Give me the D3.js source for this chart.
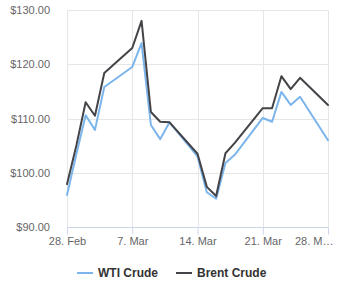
<!DOCTYPE html>
<html>
<head>
<meta charset="utf-8">
<script src="https://cdn.jsdelivr.net/npm/d3@7"></script>
<style>
  body { margin: 0; background: #fff; }
  text { font-family: "Liberation Sans", Arial, sans-serif; }
</style>
</head>
<body>
<div id="chart"></div>
<script>
// Trading days shown on the chart
var dates = ["2022-02-28", "2022-03-01", "2022-03-02", "2022-03-03", "2022-03-04",
  "2022-03-07", "2022-03-08", "2022-03-09", "2022-03-10", "2022-03-11",
  "2022-03-14", "2022-03-15", "2022-03-16", "2022-03-17", "2022-03-18",
  "2022-03-21", "2022-03-22", "2022-03-23", "2022-03-24", "2022-03-25",
  "2022-03-28"];

var wtiPrices = [95.9, 103.4, 110.6, 107.9, 115.8,
  119.5, 123.9, 108.8, 106.2, 109.3,
  103.0, 96.4, 95.2, 101.8, 103.3,
  110.1, 109.4, 114.9, 112.5, 114.0,
  106.0];

var brentPrices = [97.9, 105.0, 113.0, 110.5, 118.4,
  123.0, 128.0, 111.2, 109.4, 109.3,
  103.5, 97.4, 95.7, 103.6, 105.5,
  111.9, 111.9, 117.8, 115.4, 117.5,
  112.5];

var yTicks = [90, 100, 110, 120, 130];
var xTicks = ["2022-02-28", "2022-03-07", "2022-03-14", "2022-03-21", "2022-03-28"];
var xTickLabels = ["28. Feb", "7. Mar", "14. Mar", "21. Mar", "28. M\u2026"];

var seriesNames = ["WTI Crude", "Brent Crude"];
var seriesColors = ["#7cb5ec", "#434348"];

var svgWidth = 340;
var svgHeight = 300;

var margin = { top: 10, right: 12, bottom: 73, left: 67 };
var width = svgWidth - margin.left - margin.right;
var height = svgHeight - margin.top - margin.bottom;

var parseDate = d3.timeParse("%Y-%m-%d");

var svg = d3.select("#chart")
  .append("svg")
  .attr("width", svgWidth)
  .attr("height", svgHeight);

var chartGroup = svg.append("g")
  .attr("transform", `translate(${margin.left}, ${margin.top})`);

var xScale = d3.scaleTime()
  .domain([parseDate(dates[0]), parseDate(dates[dates.length - 1])])
  .range([0, width]);

var yScale = d3.scaleLinear()
  .domain([90, 130])
  .range([height, 0]);

// horizontal grid
chartGroup.append("g")
  .selectAll("line")
  .data(yTicks)
  .enter()
  .append("line")
  .attr("x1", 0)
  .attr("x2", width)
  .attr("y1", d => Math.round(yScale(d)) + 0.5)
  .attr("y2", d => Math.round(yScale(d)) + 0.5)
  .attr("stroke", "#e6e6e6");

// vertical grid
chartGroup.append("g")
  .selectAll("line")
  .data(xTicks)
  .enter()
  .append("line")
  .attr("x1", d => Math.round(xScale(parseDate(d))) + 0.5)
  .attr("x2", d => Math.round(xScale(parseDate(d))) + 0.5)
  .attr("y1", 0)
  .attr("y2", height)
  .attr("stroke", "#e6e6e6");

// x axis
var bottomAxis = d3.axisBottom(xScale)
  .tickValues(xTicks.map(parseDate))
  .tickSize(7)
  .tickFormat((d, i) => xTickLabels[i]);

var xAxis = chartGroup.append("g")
  .attr("transform", `translate(0, ${height + 0.5})`)
  .call(bottomAxis);

xAxis.select(".domain").attr("stroke", "#ccd6eb").attr("d", `M0,0H${width}`);
xAxis.selectAll(".tick line").attr("stroke", "#ccd6eb");
xAxis.selectAll(".tick text")
  .attr("y", 10)
  .attr("font-size", "11px")
  .attr("fill", "#666666")
  .style("font-family", "'Liberation Sans', Arial, sans-serif");

// last label is pulled inside the chart edge
xAxis.selectAll(".tick text")
  .filter((d, i) => i === xTicks.length - 1)
  .attr("text-anchor", "end")
  .attr("x", 5);

// y axis labels
chartGroup.append("g")
  .selectAll("text")
  .data(yTicks)
  .enter()
  .append("text")
  .attr("x", -17)
  .attr("y", d => yScale(d) + 4)
  .attr("text-anchor", "end")
  .attr("font-size", "11px")
  .attr("fill", "#666666")
  .text(d => "$" + d3.format(".2f")(d));

// lines
var line = d3.line()
  .x(d => xScale(d.date))
  .y(d => yScale(d.value));

var allSeries = [wtiPrices, brentPrices].map(function(values) {
  return values.map((v, i) => ({ date: parseDate(dates[i]), value: v }));
});

// draw WTI first so Brent sits on top
chartGroup.selectAll(".series")
  .data(allSeries)
  .enter()
  .append("path")
  .attr("class", "series")
  .attr("d", line)
  .attr("fill", "none")
  .attr("stroke", (d, i) => seriesColors[i])
  .attr("stroke-width", 2)
  .attr("stroke-linejoin", "round")
  .attr("stroke-linecap", "round");

// legend
var legendX = [77, 176];
var legend = svg.append("g")
  .selectAll("g")
  .data(seriesNames)
  .enter()
  .append("g")
  .attr("transform", (d, i) => `translate(${legendX[i]}, 273)`);

legend.append("line")
  .attr("x1", 0)
  .attr("x2", 16)
  .attr("y1", 0)
  .attr("y2", 0)
  .attr("stroke", (d, i) => seriesColors[i])
  .attr("stroke-width", 2);

legend.append("text")
  .attr("x", 21)
  .attr("y", 4)
  .attr("font-size", "12px")
  .attr("font-weight", "bold")
  .attr("fill", "#333333")
  .text(d => d);
</script>
</body>
</html>
